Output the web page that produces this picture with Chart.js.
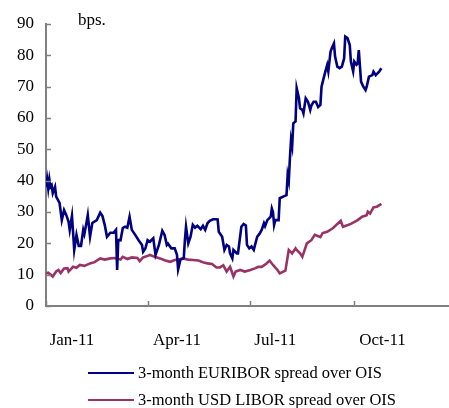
<!DOCTYPE html>
<html>
<head>
<meta charset="utf-8">
<script src="https://cdn.jsdelivr.net/npm/chart.js@4.4.0/dist/chart.umd.min.js"></script>
<style>
    body { margin: 0; background: #fff; font-family: 'Liberation Serif', 'Times New Roman', serif; }
    #wrap { position: relative; width: 449px; height: 408px; }
    #bps { position: absolute; left: 78px; top: 10px; font-size: 17px; color: #000; }
    .leg { position: absolute; left: 88px; height: 20px; font-size: 16.5px; color: #000; display: flex; align-items: center; white-space: nowrap; }
    .leg .ln { display: inline-block; width: 46px; height: 2px; margin-right: 4px; }
</style>
</head>
<body>
<div id="wrap">
    <canvas id="spreadChart" width="449" height="408"></canvas>
    <div id="bps">bps.</div>
    <div id="legend"></div>
</div>
<script>
// days counted from 1 Jan 2011
const eurDays = [0, 1, 2, 3, 4, 5, 6, 8, 9, 12, 14, 16, 18, 20, 21, 23, 25, 27, 29, 31, 33, 34, 36, 37, 39, 41, 45, 48, 50, 52, 54, 57, 60, 62, 63, 64, 66, 68, 70, 72, 74, 76, 79, 82, 85, 86, 88, 90, 92, 95, 97, 100, 103, 105, 107, 108, 111, 114, 116, 117, 119, 122, 123, 124, 126, 128, 130, 132, 134, 137, 139, 141, 143, 145, 148, 150, 152, 153, 156, 158, 160, 162, 163, 165, 166, 169, 170, 173, 175, 177, 178, 180, 182, 184, 187, 189, 191, 193, 194, 196, 199, 200, 201, 202, 203, 206, 207, 210, 213, 214, 215, 216, 217, 218, 219, 221, 222, 224, 225, 227, 228, 230, 232, 234, 235, 237, 239, 241, 243, 244, 247, 249, 250, 252, 253, 255, 256, 258, 260, 262, 264, 265, 267, 269, 270, 272, 273, 275, 276, 277, 279, 281, 283, 284, 286, 289, 290, 292, 295, 297];
const eurValues = [38, 40.5, 37.5, 40.4, 38, 38.5, 36, 38, 34.9, 32.9, 27.4, 30.6, 29, 26.9, 24.3, 28.8, 17.9, 22.7, 19.2, 19.2, 24.3, 23, 26.9, 29, 22.1, 26.5, 27.4, 29.8, 28.7, 25.9, 22.1, 23.4, 23.4, 24.3, 11.5, 21.1, 21, 24.9, 25.3, 25, 28.5, 24.3, 22.7, 21, 19.5, 17.3, 18.4, 21, 20.5, 21.6, 16.3, 19.5, 24, 22.7, 19.5, 19.9, 18.4, 18.4, 16.3, 11.7, 14.7, 15.3, 21, 25.3, 20, 22.1, 25.9, 25, 25.6, 24.5, 25.6, 24.3, 26.4, 27.2, 27.7, 27.7, 27.6, 23.7, 22.1, 17.9, 19.5, 19, 16.8, 15.2, 17.9, 16.8, 16.8, 25.3, 26.2, 25.7, 19.5, 18.4, 19, 17.9, 22.1, 23, 24.3, 26.4, 25.5, 27.4, 28.5, 31.1, 30, 25.9, 27.4, 27.4, 34.4, 34.9, 35.4, 41.8, 40, 47.1, 53, 51, 58.3, 58.9, 69.5, 66.3, 63.1, 62.6, 61.5, 66.3, 65.2, 62.6, 64, 65.2, 65.2, 63.5, 64.2, 70, 74.3, 76.9, 74.9, 81.2, 82.2, 83.8, 79.6, 76.4, 75.9, 76.4, 79, 86, 85.5, 83.3, 78, 74.9, 78, 77, 77.4, 81.7, 71.6, 70, 68.9, 70, 73.2, 73.7, 74.8, 73.7, 74.8, 75.9];

const usdDays = [0, 2, 6, 9, 11, 13, 16, 19, 20, 24, 27, 30, 34, 39, 43, 48, 52, 57, 61, 66, 68, 72, 76, 81, 83, 86, 90, 92, 97, 101, 105, 110, 114, 119, 121, 126, 130, 135, 139, 143, 147, 151, 154, 157, 160, 163, 166, 168, 172, 176, 181, 185, 188, 191, 195, 198, 201, 205, 207, 212, 215, 218, 221, 222, 225, 227, 231, 235, 238, 243, 245, 249, 254, 261, 263, 270, 276, 280, 284, 285, 287, 290, 293, 297];
const usdValues = [10.4, 10.6, 9.4, 11, 11.5, 10.5, 12, 12.1, 11, 12.5, 12.2, 13.1, 12.8, 13.6, 14, 15.2, 14.8, 15.2, 15.3, 14.8, 15.7, 15, 15.5, 15.3, 14.3, 15.5, 16, 16.3, 15.6, 15.2, 14.6, 14.1, 14.7, 15, 15.2, 14.8, 14.7, 14.5, 14, 13.6, 13.4, 12.3, 12.3, 13, 11, 12.5, 9.4, 11, 11.5, 11, 11.5, 12, 12.5, 12.5, 13.5, 14.5, 13.1, 11.5, 10.4, 11.3, 17.9, 16.8, 18.4, 17.9, 16.8, 15.7, 20, 21, 22.7, 22, 23.3, 23.7, 24.8, 27.2, 25.3, 26.2, 27.4, 28.5, 29, 30.1, 29.5, 31.5, 31.7, 32.6];

const seriesNames = ['3-month EURIBOR spread over OIS', '3-month USD LIBOR spread over OIS'];
const seriesColors = ['#000080', '#993366'];

const quarterTicks = [0, 90, 181, 273];
const labelDays = [23, 116, 203, 298];
const tickLabels = ['Jan-11', 'Apr-11', 'Jul-11', 'Oct-11'];

const yMin = 0, yMax = 90, yStep = 10;

function toPoints(days, values) {
    return days.map((d, i) => ({ x: d, y: values[i] }));
}

const font = { family: "'Liberation Serif', 'Times New Roman', serif", size: 17 };

// small tick marks pointing into the plot, like the original
const innerTicks = {
    id: 'innerTicks',
    afterDraw(chart) {
        const ctx = chart.ctx;
        const xs = chart.scales.x, ys = chart.scales.y;
        const area = chart.chartArea;
        ctx.save();
        ctx.strokeStyle = '#808080';
        ctx.lineWidth = 1.5;
        ctx.beginPath();
        for (let v = yMin; v <= yMax; v += yStep) {
            const py = Math.round(ys.getPixelForValue(v)) + 0.5;
            ctx.moveTo(area.left, py);
            ctx.lineTo(area.left + 5, py);
        }
        quarterTicks.forEach(d => {
            const px = Math.round(xs.getPixelForValue(d)) + 0.5;
            ctx.moveTo(px, area.bottom);
            ctx.lineTo(px, area.bottom - 5);
        });
        ctx.stroke();
        ctx.restore();
    }
};

const chart = new Chart(document.getElementById('spreadChart'), {
    type: 'line',
    data: {
        datasets: [{
            label: seriesNames[0],
            data: toPoints(eurDays, eurValues),
            borderColor: seriesColors[0],
            borderWidth: 2.6,
            pointRadius: 0,
            tension: 0
        }, {
            label: seriesNames[1],
            data: toPoints(usdDays, usdValues),
            borderColor: seriesColors[1],
            borderWidth: 2.6,
            pointRadius: 0,
            tension: 0
        }]
    },
    options: {
        responsive: false,
        animation: false,
        layout: { padding: { top: 24, right: 1, bottom: 52, left: 0 } },
        plugins: {
            legend: { display: false },
            tooltip: { enabled: false }
        },
        scales: {
            x: {
                type: 'linear',
                min: 0,
                max: 356,
                grid: { display: false, drawTicks: false },
                border: { color: '#808080', width: 2 },
                afterBuildTicks: (scale) => {
                    scale.ticks = labelDays.map(d => ({ value: d }));
                },
                afterFit: (scale) => { scale.height = 50; },
                ticks: {
                    padding: 24,
                    maxRotation: 0,
                    autoSkip: false,
                    color: '#000',
                    font: font,
                    callback: (val, i) => tickLabels[i]
                }
            },
            y: {
                min: yMin,
                max: yMax,
                grid: { display: false, drawTicks: false },
                border: { color: '#808080', width: 2 },
                afterFit: (scale) => { scale.width = 46; },
                ticks: {
                    stepSize: yStep,
                    padding: 12,
                    color: '#000',
                    font: font
                }
            }
        }
    },
    plugins: [innerTicks]
});

// legend as plain html, left aligned like the original
const legend = document.getElementById('legend');
seriesNames.forEach((name, i) => {
    const row = document.createElement('div');
    row.className = 'leg';
    row.style.top = (363 + i * 27) + 'px';
    row.innerHTML = '<span class="ln" style="background:' + seriesColors[i] + '"></span>' + name;
    legend.appendChild(row);
});
</script>
</body>
</html>
